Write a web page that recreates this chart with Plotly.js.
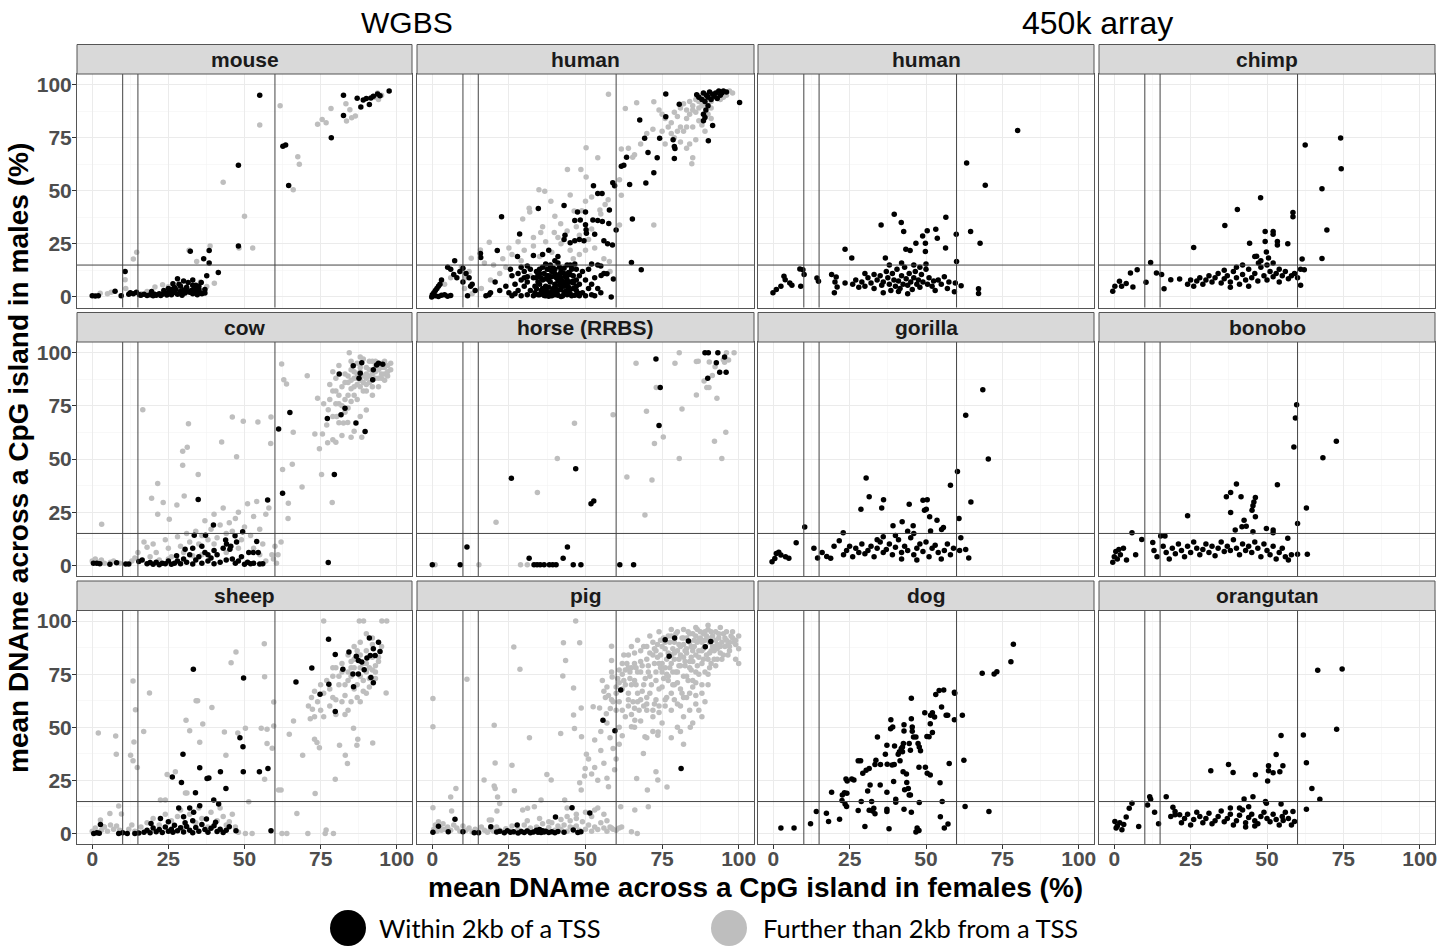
<!DOCTYPE html>
<html><head><meta charset="utf-8">
<script src="https://cdn.plot.ly/plotly-3.0.1.min.js"></script>
<style>html,body{margin:0;padding:0;background:#fff}#chart{width:1440px;height:951px}</style>
</head><body><div id="chart"></div>
<script>
// ---------- DATA (x = mean DNAme in females %, y = mean DNAme in males %) ----------
const panelNames = ['mouse','human','human','chimp','cow','horse (RRBS)','gorilla','bonobo','sheep','pig','dog','orangutan'];
const groupTitles = ['WGBS','450k array'];
const legendLabels = ['Within 2kb of a TSS','Further than 2kb from a TSS'];
const tickValues = [0,25,50,75,100];
const refVertical = [10,15,60];
const refHorizontal = [15];

const mouse_within = [[0,0.5],[1,0.4],[2,0.5],[7.5,2.6],[9.5,0.5],[10.8,12],[12,1.2],[12.5,2],[13.5,1.5],[14.5,2.2],[15.5,1],[16,0.8],[17,1.2],[18,0.6],[19,1],[19.5,2.5],[20,0.5],[20.5,1.3],[21,0.8],[22,1.5],[22.5,0.7],[23,1.2],[23.5,3],[24,2],[24.5,0.9],[25,1.6],[25.5,2.8],[26,1],[26.5,6.2],[27,2.1],[27,4.4],[27.5,3.5],[28,1.3],[28.5,5.9],[29,2.5],[29.5,0.8],[30,3.2],[30,7.5],[30.5,1.8],[31,4.5],[31.5,6.8],[32,2.2],[32.5,3],[33,1.5],[33,8],[33.5,4],[34,2.7],[34,5.5],[34.5,1],[35,3.6],[35.5,2],[35.8,6.8],[36,1.5],[36.6,18],[37,3.5],[37.6,10],[38.4,21.8],[38.4,16],[32.2,21.5],[41.4,11.5],[28,8.5],[26,3.5],[29,5],[31,2.8],[33,5.5],[35,5],[37,1.8],[25,4],[48,24],[48,62],[55,95],[62.6,71],[63.5,71.5],[64.5,52.5],[78.5,75],[82.5,95],[82.5,85.5],[87,93.6],[88.2,89.4],[89,92.8],[90,93.5],[91,90.6],[91.5,93.7],[92.3,94.5],[93.7,95.6],[94.5,94.8],[97.5,97]];
const mouse_further = [[2.6,1.7],[5,1.5],[6.2,2.2],[10.8,8.1],[11,4],[13.5,17.8],[14.6,21],[16,1.5],[18,2.5],[20.6,4.6],[23.1,5.7],[25,4.8],[27,3],[31.8,22],[34.3,16.7],[38.7,24],[40.1,6.4],[37.6,4.9],[36,3],[35.5,7],[43,54],[50,38],[48.2,23],[52.7,23],[55,81],[61.7,90],[67.5,66],[68,62.5],[66,50.5],[74,81.3],[75.5,83.6],[76.8,82],[78.4,88.8],[83.3,91],[83.5,82.8],[84.6,88.2],[85.2,84.4],[86.4,85.2],[92.8,94],[93.7,96],[95,95],[94,93]];

const humanWgbs_within = [[76.2,95.6],[80.6,90.8],[86.3,95.2],[87,94],[88,93],[88.5,96],[89,92],[89.5,95],[90,94],[90.5,96.5],[91,93],[91.5,95.5],[92,94.5],[92.5,96],[93,93.5],[93.5,97],[94,95],[94.5,96],[95,97],[96,96.5],[90,90],[89.3,88],[88.5,86],[89,84.5],[88.5,83],[91.5,80.7],[90.1,73.6],[100.3,91.6],[67.7,83.3],[76.2,84.9],[69.3,74.7],[70.4,68],[74.2,74.7],[73.4,65.5],[72.3,58.5],[69.7,53.7],[64.4,53],[65.3,36.7],[61.7,61.6],[62.5,62],[63.4,65.8],[78.6,74],[79,70.8],[79.2,69.9],[79,65.2],
[58.9,53.8],[59.5,52.4],[52.6,52.3],[54,48.7],[55.4,48.7],[57.8,40.9],[47.4,40],[50,40],[43,43],[34.6,41.6],[22.6,37.8],[28.5,29.6],[48.3,36.2],[46.5,36],[52.4,36.2],[54,36],[55.5,35.5],[57.6,34.6],[60,31.5],[50,34],[50.2,31.6],[43.3,29],[43,27],[45,25.5],[46.5,26.5],[48,27],[50.3,30],[49.5,26.5],[53,29.5],[56,26.5],[57.2,25],[58.8,24.5],[65,16.2],[68.2,12.8],[55.1,10.1],[57,10.9],[59.1,8.4],[58.4,0],[48,1.6],[45,15],[47,13],[52,15.5],[54,15],[55,14.5],[41,19],[40,17],[38,22],[36,20],[37,15.5],[33,19.5],[31,14.5],[30,12],[27.8,19],[25.5,13],[26,10],[29,8],[31,9.5],[24,5],[22,3],[20.5,7],[19,2],[17.5,0.5],[18.5,1],[21.2,21.8],[15.7,20.4],[15.8,18.5],
[7.3,17],[6,13],[5,14],[7,10.5],[3,8],[2.5,6],[2,5],[1.5,4],[1,3],[0.5,2],[0,1],[-0.2,0],[1,0.5],[2,0.2],[3,0.8],[4,1],[5,0.3],[6,0.6],[8,9],[9,12],[10,7],[11,11],[12,9],[13,6],[11.5,0.5],[12.5,5],[14,3],[10,13.5],
[33,0.5],[33.5,2],[34,4],[34.5,1],[35,6],[35.5,3],[36,8],[36.5,0.7],[37,5],[37.5,10],[38,2],[38.5,7],[39,12],[39.5,4],[40,1],[40.5,9],[41,3],[41.5,14],[42,6],[42.5,0.4],[43,11],[43.5,2.5],[44,8],[44.5,4.5],[45,1.5],[45.5,13],[46,6.5],[46.5,0.8],[47,3],[41,16],[38,13],[35,11],[44,15],[36,1.5],[38,4.5],[40,6],[42,9],[44,1],[46,10],[39,0.5],[37,3],[43,5],[45,7],[34,9],[32,3],[31,1],[30,5],[29,0.5],[28,3],[27,1.5],[26,0.5],[25,2],[48,0.5],[49,2],[50,0.5],[51,4],[52,1],[53,0.5],[55,2],[42,0.2],[40,2.5],[38,0.3],[39,9.5],[41,7.5],[43,13.5],[45,10.5],[37,8.5],[35,13],[47,8],[40,11],[42,3.5],[44,6],
[33.5,5],[34.5,7],[35.5,9],[36.5,11],[37.5,13],[38.5,15],[39.5,1.5],[40.5,3.5],[41.5,5.5],[42.5,7.5],[43.5,9.5],[44.5,11.5],[45.5,13.5],[46.5,15.5],[47.5,1],[34,12],[36,14],[38,10],[40,13],[42,12],[44,10],[46,4],[48,6],[35,1],[37,0.5],[39,2.5],[41,0.8],[43,1.8],[45,3.5],[47,5],[36,4],[38,8],[40,4.5],[42,8],[44,3],[46,7.5],[34.5,10.5],[39.5,13.5],[43.5,6.5],[41.5,10.5],[37.5,2],[45.5,0.5],[33,9],[48,10],[49,12],[50,8],[51,13],[52,6],[53,9],[54,4],[56,11],[32,13],[31,7],[30,9],[29,14],[28,11],[27,6]];
const humanWgbs_further = [[57.5,95.5],[63,88.8],[66.7,91.4],[72.3,91.9],[50.2,70.2],[54,65.5],[44.1,60],[48.5,60],[50.2,56.5],[34.8,50.5],[36.7,49.8],[38.7,45],[31.6,41.7],[31.8,40],[29.5,36.7],[35.4,30.3],[39.8,30.3],[41.9,34.5],[46.3,40.5],[48.8,40.6],[54.7,40.9],[55,39],[56.4,43.5],[57.4,45.8],[61.7,69.7],[65.4,65.8],[61.1,55.2],[61.7,47.9],[61.1,33.9],[72.3,33.9],[57.8,16.7],[18.6,25.7],[12.7,18.2],[15.7,22.1],[12,12],[11,9],[10.5,4],[13,1.5],[9.5,14],[4,6],[6,9],[17,16],[20,15],[23,18],[26,20],[24,14],[29,17],[30,22],[33,24],[35,19],[37,26],[39,21],[41,28],[42,25],[44,31],[45,22],[47,33],[48,29],[51,27],[52,32],[53,23],[56,18],[58,12],[50,45],[52,47],[45,48],[40,38],[36,33],[33,28],[28,26],[25,23],[22,11],[19,8],[16,4],[27,6],[32,10],[46,18],[48,20],[50,22],
[74,88],[75,86],[76,84],[77,80],[78,82],[79,87],[80,85],[81,89],[82,91],[83,88],[84,92],[85,90],[86,93],[87,89],[88,95],[89,91],[90,95],[91,89],[92,94],[93,96],[94,93],[95,96],[96,95],[97,97],[98,96],[86,87],[84,86],[82,78],[83,80],[80,78],[78,77],[85,80],[87,83],[88,81],[89,78],[86,74],[84,72],[83,70],[81,73],[79,75],[75,78],[72,79],[70,77],[68,72],[66,67],[64,70],[76,72],[81,80],[90,86],[91,84],[88,90],[85,65.5],[84.7,62.7],[87,92],[89,94],[91,92],[93,94],[95,94],[85,88],[83,84]];

const human450_within = [[80,78.4],[63.3,63.1],[69.4,52.6],[56.5,37.5],[39.6,38.9],[41.9,35],[42.7,30.8],[35.3,33.9],[23.5,22.5],[25.7,18.3],[36.7,18.3],[43.4,22.5],[44.8,21.9],[46.7,25.3],[48.9,28.7],[50.4,31.2],[49.8,25.3],[49.8,21.4],[53.2,31.9],[53.7,27.6],[56.4,23],[59.9,29.5],[60,16.7],[64.6,30.8],[67.7,25.3],[59.6,6.6],[61.5,5.3],[59.3,2.4],[67.2,3.8],[67.2,1.6],[-0.1,1.9],[1,3.5],[2.5,5],[3.9,8.1],[3.5,9.7],[5.4,6.6],[6.1,5.5],[8.7,13.1],[9.7,12.8],[10.1,10.5],[9,5],[14.3,8.9],[14.8,7.4],[19.1,10.5],[20.6,9.4],[20.2,7],[20,1.9],[20.9,4.7],[23.5,6.6],
[26,6],[27,8],[28,4.5],[29,7],[30,5],[31,9],[32,6.5],[33,4],[34,8],[35,10],[35.5,5.5],[36,7],[37,12],[37.5,9],[38,6],[38.5,3],[39,11],[39.5,8],[40,5],[40.5,13],[41,7.5],[41.5,4],[42,10],[42.5,6],[43,14],[43.5,8.5],[44,5.5],[44.5,11],[45,7],[45.5,3.5],[46,9],[46.5,12],[47,6],[47.5,8],[48,4.5],[48.5,10.5],[49,7],[50,13],[50.5,6],[51,9],[52,5],[52.5,7.5],[53,3],[54,8],[55,6],[56,9.5],[57,4],[57.5,7],[44,1.5],[41,2.5],[36,2],[33,10.5],[30,11],[46,15],[48,14],[42,16],[50,15.5],[38,15]];

const chimp_within = [[74.1,74.8],[74.3,60.4],[62.5,71.6],[68,51],[69.6,31.5],[68,18.1],[47.9,46.7],[40.3,41.2],[36.2,33.6],[26,23.3],[49.4,30.8],[52,30.8],[52,29.5],[44.3,25.3],[49.4,26.1],[53.4,26.1],[53.4,24.5],[56.8,25],[58.5,39.7],[58.5,37.8],[49.8,21.1],[50.5,18.3],[46.6,19.1],[47.2,16],[61.5,17.8],[62.2,12.8],[61,5.5],[11.9,16.2],[5.3,11.3],[7.5,12.8],[-0.5,2.7],[0.2,5],[1.7,7.4],[6.1,4.7],[2.4,5],[3.9,6.3],[10.4,6.9],[13.8,11.3],[15.5,10.5],[16.3,3.8],[18.5,8.1],[21.4,8.4],
[24,6],[25,8],[26,5],[27,7.5],[28,9],[29,6],[30,8],[31,10],[32,7],[33,9],[34,11],[35,6.5],[36,8.5],[37,10],[38,7],[39,12],[40,9],[41,6],[42,10.5],[43,8],[44,13],[45,9],[46,11],[47,7.5],[48,14],[49,10],[50,8],[51,12],[52,9.5],[53,11],[54,7],[55,10],[56,12],[57,8.5],[58,10],[59,11],[60,9],[61,13],[44,5],[38,4.5],[48,17],[50,15],[46,19],[52,16],[54,13],[42,15],[36,12.5],[40,14]];

const cow_within = [[77.5,1.4],[34.8,31],[39.8,19],[33.5,14.2],[37.2,14.2],[43.8,11.9],[44.1,10],[46.9,13.9],[47.4,11],[49.4,15.8],[54,11.2],[51.4,6],[52.9,6],[54.5,6],[57.6,30.7],[61.2,64.1],[62.5,33.9],[64.9,71.9],[79.5,42.7],[77.2,69],[81.7,70.8],[83,73.8],[86.6,66.9],[89.6,62.9],[81.1,90],[85.7,93.8],[88.5,95.3],[88,90.3],[87.6,88],[92.1,87.2],[92.3,91.9],[93.4,94.2],[95.4,94.5],[94,95],
[0.4,1],[1.5,1],[2.5,0.8],[5.8,0.5],[8,1.2],[11,0.6],[12,0.6],[15.3,1.8],[16.4,2.5],[18,0.8],[19,1.3],[20,0.5],[21,1.5],[22,0.3],[23,1],[24,0.7],[25,2],[26,0.5],[27,1],[27.7,4.5],[28,2],[29,0.8],[30,3],[30.5,7.6],[31,1.5],[32,5],[33,0.6],[34,2.5],[35,4],[36,1],[37,6],[38,2],[39,3.5],[40,0.8],[41,5],[42,1.5],[43,8],[44,2.5],[45.2,7.6],[45.5,9],[46,3],[47,1],[48,2],[49,4],[50,0.5],[51,1.5],[52,0.7],[53,1],[55,0.6],[56,0.8],[33,8],[36,9],[40,7],[38,5]];
const cow_further = [[16.6,73.2],[31.6,66.6],[31.2,55.5],[29.7,53.7],[29.7,47.1],[34.8,42.7],[21.5,38.5],[19.5,31.5],[23.3,29.5],[21.5,24],[25.3,21.7],[27.8,28.4],[30.2,32.6],[42.5,58],[47.4,51],[46,69.7],[49.6,67.7],[54.4,67.4],[58.6,57.3],[58.7,69.7],[3.1,19.3],[62.2,94.7],[62.9,87.2],[63.8,85.3],[62.5,45.1],[66,62.6],[65.7,47.5],[68.9,36.8],[64.4,29.2],[64.3,22],[70.6,89.1],[74,78.6],[73.1,61.8],[75.6,61.8],[74.6,54.8],[75.3,42.7],[78.8,29.5],[77.3,57.6],[80,57.9],[77.5,73.2],[80.3,70],[82.5,66.9],[83.9,67.2],[85,60.2],[88.5,60.2],[84.4,100],
[78,85],[79,82],[80,88],[81,80],[82,84],[83,90],[84,86],[85,92],[86,88],[87,95],[88,91],[89,86],[90,93],[91,89],[92,96],[93,91],[94,88],[95,93],[96,90],[97,94],[98,92],[89,97],[90,82],[86,80],[83,78],[81,76],[87,78],[91,86],[94,84],[92,80],[95,88],[88,84],[85,83],[82,75],[80,76],[84,74],[96,96],[93,94],[90,90],[87,88],[85,96],[79,91],[81,94],[97,89],[92,87],[88,98],
[83,86],[84,89],[85,87],[86,91],[87,85],[88,93],[89,89],[90,88],[91,92],[92,90],[93,96],[94,92],[95,90],[96,93],[97,91],[98,95],[90,85],[92,84],[89,82],[86,84],[84,80],[91,96],[94,95],[87,90],[88,87],[93,88],[95,95],[96,87],[85,77],[83,72],[81,67],[79,70],[78,78],[80,82],[76,76],[77,66],[79,59],[82,61],[86,63],[88,70],[90,73],
[0,2],[1,3],[2,1.5],[3,2.5],[4,1],[6,1.5],[7,2],[9,1],[13,2],[14,3.5],[15,6],[17,11],[18,8.5],[19,4],[20,10],[21,6],[22,2.5],[24,12],[25,8],[26,4],[28,13.5],[30,6],[31,15],[32,11],[33,4.5],[34,16],[35,10],[36,14],[37,21],[38,12],[39,17],[40,24],[41,13],[42,19],[43,27],[44,15],[45,20],[46,16],[47,22],[48,25],[49,12],[50,18],[51,29],[52,14],[53,23],[54,30],[55,17],[56,10],[57,24],[58,27],[59,5],[59.5,3],[60,9],[60.5,1],[61,5],[62,11],[48,8],[44,6],[40,10],[36,5],[29,9],[25,3],[53,8],[55,5],[57,2]];

const horse_within = [[0,0.3],[9.1,0.3],[11.3,8.6],[25.8,40.9],[31.6,3.3],[33.2,0.3],[34.2,0.3],[35.2,0.3],[36.5,0.3],[38.2,0.3],[39.3,0.3],[40.4,0.3],[42.7,3.3],[44.1,8.6],[46,0.3],[48.5,0.3],[46.8,45.4],[51.8,29],[52.7,30.3],[61.2,0.3],[65.7,0.3],[73,97],[74.4,83.6],[74,65.8],[89,100],[90.1,100],[93.2,100],[92.7,95.3],[95.4,98],[93.8,90.8],[95.9,90.8],[89.9,88]];
const horse_further = [[0.9,0.3],[15.2,0.3],[20.8,20.3],[28.8,0.3],[31,0.3],[34.3,34.2],[40.8,50.2],[46.4,66.8],[59,70.8],[63.5,41.5],[66.5,95],[69.9,72.4],[69.4,23.7],[71.7,40.1],[72.5,57.3],[73.1,83.6],[75.4,60.4],[79.2,95],[80.6,100],[81.5,73.5],[80.6,50.2],[86.2,95.8],[86.2,80.1],[86.8,96],[90.4,95.6],[88.7,86.7],[89.6,83.6],[90.3,83.6],[91.4,89.2],[92.3,93.4],[92.9,78.5],[92.1,58.3],[94.5,50.2],[95,96.7],[95.4,95.5],[96.7,96.5],[98.5,100],[95.8,62.6],[96,100]];

const gorilla_within = [[68.6,82.6],[63,70.6],[70.4,50],[60.3,44.1],[58,37.7],[64.7,29.8],[60.8,22],[61.4,13],[30.4,41.1],[31.4,32.2],[36.1,30.9],[35.5,27],[28.7,26.4],[44.5,28.7],[49,30.6],[50.4,30.9],[49.5,25.9],[50.1,26.4],[42.2,20.5],[45.8,18.6],[39.2,18.6],[51.2,22.8],[53.6,21.2],[55.7,17.8],[55.1,16.9],[51.5,16.1],[22.9,15.3],[21.6,11.6],[10.3,18],[7.5,10.6],[13.3,8],[14.5,3.5],[16,6],[17.5,4.2],[19.9,9],[18.8,3.3],[-0.4,1.7],[1,5.6],[2.5,4.9],[4,4.1],[5.1,3.3],[0.5,3.2],[1.8,6.2],
[23,5],[24,7],[25,9],[26,4],[27,8],[28,6],[29,10],[30,5.5],[31,7],[32,9],[33,4],[34,8],[35,11],[36,6],[37,7.5],[38,10],[39,5],[40,8.5],[41,12],[42,6],[43,9],[44,7],[45,13],[46,5],[47,8],[48,10],[49,6.5],[50,11],[51,4],[52,8],[53,9.5],[54,6],[55,3],[56,7],[57,10],[58,5],[59,8],[61,7],[63,7.5],[64,3.5],[40,14],[36,13.5],[44,16],[46,15],[34,12],[42,3],[47,2.5]];

const bonobo_within = [[59.7,75.5],[59.3,69.3],[58.8,55.6],[72.7,58.4],[68.3,50.6],[62.9,27],[60,19.7],[60,5.2],[63.2,5.2],[53.4,37.9],[40,38.3],[38.1,34.2],[36.7,32.2],[24,23.3],[38.1,24.8],[41.5,32.2],[46.2,31.9],[45.7,29.8],[45.4,28],[45.1,25.9],[46.2,22.8],[42.5,21.2],[43.2,18.4],[41.8,18.1],[39.6,16.6],[45.4,15.8],[49.8,17.3],[52,16.6],[52,15.3],[56.8,12.7],[5.8,15.3],[9,12.2],[12.6,10.8],[15.2,13.8],[16.6,13.8],
[-0.5,1.5],[0,4],[0.5,6.5],[1,3],[1.5,7.5],[2,5],[3,8],[4,2.5],[7,5],[13,7],[14,4],[16,9],[17,6],[18,3],[19,8],[20,5.5],[21,10],[22,7],[23,4],[24,9],[25,6],[26,11],[27,8],[28,5],[29,7.5],[30,10],[31,6],[32,9],[33,4.5],[34,8],[35,11],[36,6.5],[37,9],[38,7],[39,12],[40,8],[41,5],[42,10],[43,7],[44,9],[45,6],[46,11],[47,8],[48,4],[49,10],[50,7],[51,5],[52,9],[53,3],[54,6],[55,8],[56,4],[57,2.5],[58,5]];

const sheep_within = [[2.7,4.2],[0.5,0],[1.5,0.3],[2.3,0.1],[8.7,0],[10,0.3],[11.5,0],[14,0],[15.3,0.2],[19.3,4.7],[22.4,7],[26.3,26.6],[29.3,24],[29.8,37.3],[28.4,12],[30,7.8],[32,12],[33.3,9.9],[33.9,19.1],[35.3,30.9],[35.3,13],[37.7,25.9],[38.3,26.1],[39.9,15.7],[42.1,29],[41.5,13.8],[43.9,21.2],[45,3.1],[47.2,1.3],[48.5,45],[49.5,40.8],[49.6,29],[49.7,73.2],[33.2,77.3],[54.9,29],[57.7,30.6],[58.7,1.3],[66.9,71.3],[72.1,77.9],[74.8,65.5],[77.7,70.2],[77.6,91.5],[79.8,57.4],[79.8,84.3],[82.3,77.3],[84.3,85.4],[85.6,75.1],[85.8,69.1],[86.7,83.4],[87.4,81.5],[87.4,75.1],[88.5,80.7],[89.3,77.1],[90.2,82.6],[91,92],[91.3,83.8],[92.3,87],[91.5,73.4],[92.3,71],[94,90],[94.5,85.7],[92.9,83.8],
[17,0.5],[18,1.5],[19,0.3],[20,2.5],[21,0.8],[22,1.8],[23,0.4],[24,3],[25,1],[26,2],[26.5,0.5],[27,3.8],[28,1.2],[29,2.6],[30,0.6],[31,3.3],[32,1.5],[33,0.3],[34,2.8],[35,1],[36,4.2],[37,1.8],[38,0.5],[39,2.4],[40,3.6],[41,0.9],[42,2],[43,0.4],[44,1.5],[30.5,5],[33,6],[25,5.5],[37.5,6.8],[40.5,5.3]];
const sheep_further = [[2,47.3],[7.7,45.9],[7.9,37.3],[12.6,36.8],[13.4,34.2],[14.8,31],[13.7,43],[14.2,58.3],[13.4,71.8],[18.8,66.1],[16.9,48],[9.6,9.1],[5.8,9.4],[8.7,12.9],[2.7,6.3],[3.8,3.1],[22.4,15.7],[24,15.7],[24.6,27.7],[27.3,29],[30.6,19],[31.1,19],[30.8,53.3],[32,48.3],[34.1,62.5],[34.6,62.5],[35.3,42.9],[36.3,51.5],[39.3,59.3],[43.4,47.8],[43.9,36.8],[47.2,85.4],[45.6,80.4],[47.8,47.3],[50.3,49.5],[51.4,14.9],[55.5,49.5],[57.4,49],[56.5,89.3],[56.6,73.8],[56.6,25.5],[57.4,42.3],[59.1,40.1],[59.6,50.6],[59.6,61.9],[61.2,20.4],[62,20.4],[62.3,0],[63.9,0],[64.7,46.7],[66.1,53],[67.2,9.4],[69.1,36.8],[70.8,0],[71.6,54],[72.3,58.5],[73,44.4],[73.8,42.8],[74.6,40.4],[73.2,18.8],[76,100],[76.5,0],[76.8,1.6],[79.2,0],[79.8,25.5],[81.2,41.5],[83.1,36.8],[83.8,32.9],[85.8,49.5],[86.9,41.5],[87.2,44.4],[87.7,100],[89.1,100],[92.1,42.6],[95.1,100],[96.7,100],[96.5,66.1],[50.3,0],[52.5,0],
[71,60],[72,64],[73,67],[74,62],[75,70],[76,66],[77,72],[78,68],[79,74],[80,63],[81,70],[82,76],[83,65],[84,72],[85,78],[86,68],[87,82],[88,74],[89,80],[90,86],[91,78],[92,83],[93,76],[94,81],[95,88],[86,88],[88,90],[90,94],[92,92],[84,84],[82,80],[80,78],[78,60],[76,55],[80,56],[84,58],[88,62],[90,66],[85,62],[87,70],[89,72],[91,69],[93,73],[83,56],[82,62],[79,64],[75,58],[73,55],
[84,76],[86,78],[88,84],[90,80],[92,77],[94,83],[89,67],[87,64],[85,74],[83,70],[81,74],[79,78],[91,73],[93,79],[86,82],[88,78],[90,76],[92,89],[87,86],[85,81],
[0,1],[1,2.5],[2,0.5],[3,1.5],[4,3],[5,1],[6,4],[7,2],[8,3.5],[9,1.5],[12,2],[13,4],[14,1],[16,3],[18,5],[20,7],[22,4],[24,9],[26,6],[28,8],[29,11],[30,3],[32,9],[34,5],[35,12],[36,7],[38,3],[39,10],[41,6],[42,12],[43,8],[44,4],[45,5.5],[46,9],[47,3],[48,0.5]];

const pig_within = [[0.2,0.5],[2,3.4],[5.2,0.8],[7.4,6.7],[10,0.8],[13.7,0.3],[15.1,0.3],[19.1,3.1],[27.7,3.9],[40.2,7.7],[45.6,12.1],[51.4,9.6],[46,1.6],[55.7,53.3],[59.6,48.3],[61.5,67.6],[76,91.2],[77.3,83.4],[79.1,92],[83.6,90.6],[89.1,87.9],[90.9,90.4],[81.2,30.6],
[21,0.6],[22,1],[23.5,0.3],[24.5,1.2],[25.5,0.5],[26.5,0.8],[28,0.2],[29,0.9],[30,0.4],[31,1.1],[32,0.3],[33,0.7],[34,1.5],[34.5,0.5],[35,1.8],[35.5,0.4],[36,1.2],[36.5,0.6],[37,1],[38,0.4],[39,0.8],[40,0.3],[41,0.9],[43,0.5],[47.5,0.4],[48.5,0.8]];
const pig_further = [[0.2,63.5],[0.2,50.2],[0.2,12.1],[6,17.2],[6.3,10.5],[7.7,21.2],[11.3,72.6],[16.9,25.1],[20.2,50.9],[20.5,33.2],[20.2,22.3],[20.5,21.2],[21.3,17.2],[18.6,6.3],[19.3,6.3],[21.1,10.5],[22,14.1],[26.6,87.8],[26,32.1],[26.8,20.1],[28.6,77.3],[29.5,11],[31.1,11.8],[31.7,45.1],[33.3,12.5],[35.5,15.7],[37.4,27.7],[38.8,25.1],[41.9,47],[42.8,89.8],[42.6,74.1],[43.5,81.5],[43.2,15.7],[44,12],[46.1,68.5],[46.1,55.8],[46.4,49.4],[46.8,100],[48.1,89.8],[48.6,59.1],[48.7,45.5],[48.1,23.8],[48.6,20.4],[49.7,27],[49.9,30.6],[50.3,37.3],[52.5,59.6],[54.6,59.1],[56.8,56.4],[58.1,58.8],[58.5,88.1],[58.5,81.5],[58.5,76],[58.7,73.7],[55.5,72],[56,67],[56.5,64],[57.5,65],[58.5,63],[57,69],[51,35],[52,28],[53,31],[54,25],[55,39],[56,33],[57,26],[57.5,22],[58,45],[59,40],[59.5,30],[60,35],[61,42],[58.5,2.5],[60,1.5],[61.8,3],[61.5,12.5],[65,0.8],[66.9,0],[66.1,11],[66.7,25.9],[70.2,20.4],[70.5,12.5],[73,29],[73.6,25.1],[76.6,21.9],[73.7,47.8],[73.6,46.2],[68.9,37.6],[69.4,45.5],[65,50.2],[66.1,53.3],[53,44],[55,48],[57,52],[60,58],[61,50],[62,46],[63,55],[64,60],[59,62],[60,66],[61,71],[62,68],[100,93],[100,80],[99,82],[98,95],[97,90],[45,3],[47,7],[52,8],[54,12],[57,6],
[62,75],[63,70],[63.5,80],[64,66],[64.5,73],[65,78],[65.5,62],[66,85],[66.5,70],[67,76],[67.5,58],[68,81],[68.5,67],[69,88],[69.5,73],[70,64],[70.5,79],[71,85],[71.5,70],[72,90],[72.5,61],[73,76],[73.5,83],[74,68],[74.5,91],[75,80],[75.5,73],[76,87],[76.5,64],[77,93],[77.5,78],[78,84],[78.5,70],[79,90],[79.5,76],[80,95],[80.5,82],[81,88],[81.5,66],[82,92],[82.5,79],[83,85],[83.5,72],[84,94],[84.5,88],[85,81],[85.5,91],[86,76],[86.5,96],[87,86],[87.5,92],[88,80],[88.5,94],[89,88],[89.5,84],[90,96],[90.5,90],[91,86],[91.5,93],[92,82],[92.5,95],[93,89],[93.5,92],[94,85],[95,94],[95.5,88],[96,91],[97,86],[98,92],[99,89],[76,90],[78,93],[80,86],[82,89],[84,90],[86,93],[88,90],[90,92],[83,92],[79,82],[81,79],[85,86],[87,83],[89,91],[91,95],[77,85],[75,88],[73,86],[70,82],[68,76],[66,72],[64,78],[61,77],[60.5,73],[62.5,84],[65,88],[67,91],[71,93],[74,95],[78,96],[82,96],[86,97],[90,98],[94,97],[96,95],[92,88],[84,78],[82,74],[80,71],[78,66],[76,60],[74,57],[72,55],[70,58],[68,53],[66,50],[65,56],[67,62],[69,60],[71,66],[73,63],[75,69],[77,72],[79,63],[81,60],[83,64],[85,69],[86,65],[87,58],[88,55],[89,62],[84,58],[82,55],[86,61],[88,66],[90,70],[85,52],[84.2,50],[81,48],[80,50],[78,45],[82,42],[75,52],[72,48],[70,45],
[72.5,87],[73.5,89],[74.5,84],[75.5,92],[76.5,82],[77.5,90],[78.5,87],[79.5,94],[80.5,89],[81.5,92],[82.5,86],[83.5,95],[84.5,83],[85.5,88],[86.5,90],[87.5,95],[88.5,87],[89.5,93],[90.5,85],[91.5,88],[92.5,91],[93.5,94],[94.5,90],[95.5,92],[96.5,89],[97.5,93],[98.5,90],[76,78],[78,80],[80,76],[82,83],[84,81],[86,84],[88,86],[90,82],[92,86],[94,88],[79,85],[81,84],[83,87],[85,94],[87,91],[89,95],[91,91],[93,87],[74,80],[72,84],[70,88],[68,86],[66,80],[64,84],[63,77],[62,80],[65,70],[67,66],[69,70],[71,74],[73,72],[75,76],[77,74],[79,70],[81,68],[83,74],[85,72],[87,75],[89,76],[91,80],[93,82],[95,84],[97,88],[99,91],[100,87],[88,70],[90,75],[86,71],[84,66],[82,64],[80,61],[78,58],[76,63],[74,60],[72,58],[70,61],[68,63],[66,59],[64,63],[62,58],[61,62],[60,69],[62.5,72],[64.5,76],[66.5,78],[68.5,79],[70.5,76],[72.5,80],[74.5,78],[76.5,75],[78.5,76],[80.5,79],[82.5,81],[84.5,77],[86.5,79],[88.5,82],[90.5,78],[92.5,79],[94.5,82],[96.5,84],
[0.5,2],[1,4],[1.5,1],[2,5.5],[2.5,3],[3,1.5],[3.5,4.5],[4,2],[5,3],[6,1.5],[7,4],[8,2.5],[9,1],[10,3.5],[11,1.5],[12,2.5],[13,0.8],[14,2],[15,1],[16,3],[17,1.5],[18,0.5],[19,2],[20,1],[21,3],[22,1.5],[23,0.8],[24,2.2],[25,1.2],[26,3.5],[27,0.6],[28,2],[29,1],[30,4],[31,1.5],[32,2.5],[33,0.8],[34,3],[35,1.8],[36,4.5],[37,1],[38,2.8],[39,5],[40,1.5],[41,3.5],[42,2],[43,4],[44,1],[45,6],[46,2.5],[47,3.5],[48,1.5],[49,5.5],[50,2],[51,4],[52,1],[53,3],[54,1.8],[55,5],[56,2.5],[57,1],[58,3],[59,2],[61,2.5],[31,6],[35,7],[38,5.5],[42,6.5],[44,8],[47,9],[50,10],[53,11],[56,9]];

const dog_within = [[78.6,89.1],[77.8,80.9],[68.4,75.4],[72.3,75.1],[73.2,76.2],[53.2,65.4],[54.3,67.3],[55.8,67.6],[59.3,66.5],[59.4,66],[45.2,63.7],[55.1,59.5],[49.6,56.8],[51.5,55.6],[52.1,56.8],[52.8,54.8],[51.4,51.7],[56.6,55.6],[57.1,55.6],[59.3,53.5],[61.9,55.6],[38.5,53.5],[39.1,50.1],[38.4,49.3],[42.8,51.2],[42.8,48.2],[45.2,54],[45.5,48.1],[45.9,45.4],[46.7,45.4],[47.4,42.3],[50.3,45.7],[51,45.5],[52.1,47.5],[45.5,50.1],[42.6,42.3],[42.3,40.7],[41.9,40],[42.3,38.4],[41.3,38.4],[40.9,37.3],[44.5,42.3],[44.9,39.2],[47.8,40.7],[48.2,38.9],[39.7,41.2],[37.2,41.5],[36.7,37.3],[34.1,45.4],[33.6,34.5],[33.3,32.5],[35.1,32.5],[31.4,30.6],[29.3,28.3],[30.4,29.8],[27.8,34.2],[28.6,34.2],[37.3,32.6],[38.9,32.2],[39.6,32.5],[41.5,34.2],[42.5,29],[43.6,28],[47.7,31.1],[49.8,31.1],[50.4,28.3],[51.4,27.5],[57.6,32.9],[62.4,34.5],[54.6,23.9],[23.8,25.6],[24.2,24.7],[25.7,25.6],[26.4,25.1],[31.7,22.8],[35,22.8],[39.4,24.4],[43.7,24],[44.2,21.2],[44.9,18.1],[44.5,18.1],[43,20.5],[37.2,19.4],[30.9,20],[22.6,18.1],[23.3,19.2],[24.1,18.9],[19.1,19.4],[22.5,15.5],[23.5,13.9],[24,12.7],[32.2,15],[32.9,11.9],[40.1,16.1],[40.1,14.7],[47.8,14.5],[55.3,15],[62.8,12.7],[70.6,10.3],[37.2,11.4],[37.2,10.3],[42.8,11.4],[45.2,10],[32.5,10.5],[33.3,9.2],[31.4,10.9],[27.8,10.8],[28.8,15],[21.7,6.7],[18.1,5.6],[17.4,9.5],[14.1,10.3],[12.2,4.5],[6.8,2.5],[2.5,2.5],[30,3.3],[37.9,2.2],[47.1,2.5],[47.7,1.4],[46.7,0.6],[54.7,7.8],[57.2,4.4],[56,2.5]];

const orangutan_within = [[74.6,77.4],[66.6,76.8],[72.8,49],[61.9,46.4],[54.6,46.1],[53,37.2],[62.9,33.3],[55.2,31.9],[50.5,31.9],[50.5,29.5],[52,28.6],[54.2,29],[50.2,24.7],[46.2,27.6],[37.4,32.5],[38.9,28.7],[31.6,29.5],[64.7,21.2],[67.3,16.1],[62.9,11.4],[42.5,16.2],[45.4,17.3],[49.5,15],[49.8,14.2],[54.6,13.9],[17,17.3],[11.6,17.3],[11.9,16.1],[10.9,13.4],[13.2,10],[5.8,14.2],[4.9,11.9],[3.9,7.7],[0.2,5.6],[1,3.5],[1.8,5],[2.5,1.7],[3.1,4.2],[0.6,2.5],[8,3.3],[14.5,4.5],[19.2,12.3],[19.9,10.3],[18.5,8],[19.9,8.8],[21.4,8.8],[59,5.6],[55.3,6.1],[58.5,10.3],
[22,5],[23,7],[24,9],[25,4],[26,6.5],[27,10],[28,8],[29,5],[30,7],[31,9.5],[32,4.5],[33,6],[34,8],[35,10.5],[36,5.5],[37,7],[38,9],[39,4],[40,6],[41,8.5],[42,11],[43,5],[44,7.5],[45,9],[46,6],[47,4.5],[48,8],[49,10],[50,7],[51,5.5],[52,9],[53,6.5],[54,4],[55,8],[56,10],[57,7],[58,4],[44,12.5],[41,12],[43,3],[46,3.5],[38,12]];

const withinSets = [mouse_within, humanWgbs_within, human450_within, chimp_within, cow_within, horse_within, gorilla_within, bonobo_within, sheep_within, pig_within, dog_within, orangutan_within];
const furtherSets = [mouse_further, humanWgbs_further, [], [], cow_further, horse_further, [], [], sheep_further, pig_further, [], []];

// ---------- LAYOUT GEOMETRY (pixels) ----------
const W = 1440, H = 951;
const colX = [[77,412],[417,754],[758,1094],[1099,1435]];
const rowY = [[74,307.5],[342,576],[610.5,844]];
const stripH = 29.5;
const FONT = 'Liberation Sans, Arial, sans-serif';
const px = v => v / W, py = v => (H - v) / H;

const traces = [];
const layout = {
  width: W, height: H, autosize: false,
  margin: {l:0, r:0, t:0, b:0},
  paper_bgcolor: '#fff', plot_bgcolor: '#fff',
  showlegend: false, shapes: [], annotations: []
};

panelNames.forEach((name, i) => {
  const r = Math.floor(i / 4), c = i % 4, n = i + 1;
  const xk = n === 1 ? 'xaxis' : 'xaxis' + n;
  const yk = n === 1 ? 'yaxis' : 'yaxis' + n;
  const xr = 'x' + (n === 1 ? '' : n), yr = 'y' + (n === 1 ? '' : n);
  const common = {
    range: [-5, 105], tickvals: tickValues, zeroline: false,
    showgrid: true, gridcolor: '#ebebeb', gridwidth: 1,
    minor: {tickvals: [12.5, 37.5, 62.5, 87.5], showgrid: true, gridcolor: '#f4f4f4', gridwidth: 0.6},
    showline: true, mirror: true, linecolor: '#555', linewidth: 1,
    tickfont: {family: FONT, size: 21, color: '#4d4d4d', weight: 'bold'},
    ticklen: 4, tickcolor: '#333', fixedrange: true
  };
  layout[xk] = Object.assign({}, common, {
    domain: [px(colX[c][0]), px(colX[c][1])], anchor: yr,
    showticklabels: r === 2, ticks: r === 2 ? 'outside' : '',
    ticklabelstandoff: -8
  });
  layout[yk] = Object.assign({}, common, {
    domain: [py(rowY[r][1]), py(rowY[r][0])], anchor: xr,
    showticklabels: c === 0, ticks: c === 0 ? 'outside' : '',
    ticklabelstandoff: -4
  });

  const fur = furtherSets[i], wit = withinSets[i];
  if (fur.length) traces.push({
    type: 'scatter', mode: 'markers', xaxis: xr, yaxis: yr,
    x: fur.map(p => p[0]), y: fur.map(p => p[1]),
    marker: {color: '#bebebe', size: 5.5}, hoverinfo: 'skip', cliponaxis: true
  });
  traces.push({
    type: 'scatter', mode: 'markers', xaxis: xr, yaxis: yr,
    x: wit.map(p => p[0]), y: wit.map(p => p[1]),
    marker: {color: '#000', size: 5.5}, hoverinfo: 'skip', cliponaxis: true
  });

  refVertical.forEach(v => layout.shapes.push({
    type: 'line', xref: xr, yref: yr + ' domain', x0: v, x1: v, y0: 0, y1: 1,
    line: {color: '#444', width: 1}, layer: 'above'
  }));
  refHorizontal.forEach(h => layout.shapes.push({
    type: 'line', xref: xr + ' domain', yref: yr, x0: 0, x1: 1, y0: h, y1: h,
    line: {color: '#444', width: 1}, layer: 'above'
  }));

  // strip
  layout.shapes.push({
    type: 'rect', xref: 'paper', yref: 'paper',
    x0: px(colX[c][0]), x1: px(colX[c][1]),
    y0: py(rowY[r][0]), y1: py(rowY[r][0] - stripH),
    fillcolor: '#d9d9d9', line: {color: '#555', width: 1}
  });
  layout.annotations.push({
    xref: 'paper', yref: 'paper', showarrow: false,
    x: px((colX[c][0] + colX[c][1]) / 2), y: py(rowY[r][0] - stripH / 2),
    xanchor: 'center', yanchor: 'middle', text: name,
    font: {family: FONT, size: 21, color: '#1a1a1a', weight: 'bold'}
  });
});

// group titles
layout.annotations.push({xref:'paper', yref:'paper', showarrow:false, x:px(407), y:py(23), xanchor:'center', yanchor:'middle',
  text: groupTitles[0], font:{family:FONT, size:30, color:'#000'}});
layout.annotations.push({xref:'paper', yref:'paper', showarrow:false, x:px(1097), y:py(23), xanchor:'center', yanchor:'middle',
  text: groupTitles[1], font:{family:FONT, size:32, color:'#000'}});

// axis titles
layout.annotations.push({xref:'paper', yref:'paper', showarrow:false, x:px(755), y:py(887), xanchor:'center', yanchor:'middle',
  text:'mean DNAme across a CpG island in females (%)', font:{family:FONT, size:28, color:'#000', weight:'bold'}});
layout.annotations.push({xref:'paper', yref:'paper', showarrow:false, x:px(18), y:py(458), xanchor:'center', yanchor:'middle',
  textangle:-90, text:'mean DNAme across a CpG island in males (%)', font:{family:FONT, size:28, color:'#000', weight:'bold'}});

// legend (keys)
const legendKeys = [{cx:348, color:'#000', tx:377}, {cx:729, color:'#bebebe', tx:761}];
legendKeys.forEach((k, j) => {
  layout.shapes.push({type:'circle', xref:'paper', yref:'paper',
    x0:px(k.cx - 18), x1:px(k.cx + 18), y0:py(946), y1:py(910),
    fillcolor:k.color, line:{color:k.color, width:0}});
  layout.annotations.push({xref:'paper', yref:'paper', showarrow:false, x:px(k.tx), y:py(928),
    xanchor:'left', yanchor:'middle', text:legendLabels[j], font:{family:'Lato, Liberation Sans, sans-serif', size:25.5, color:'#000'}});
});

Plotly.newPlot('chart', traces, layout, {staticPlot: true, displayModeBar: false});
</script>
</body></html>
